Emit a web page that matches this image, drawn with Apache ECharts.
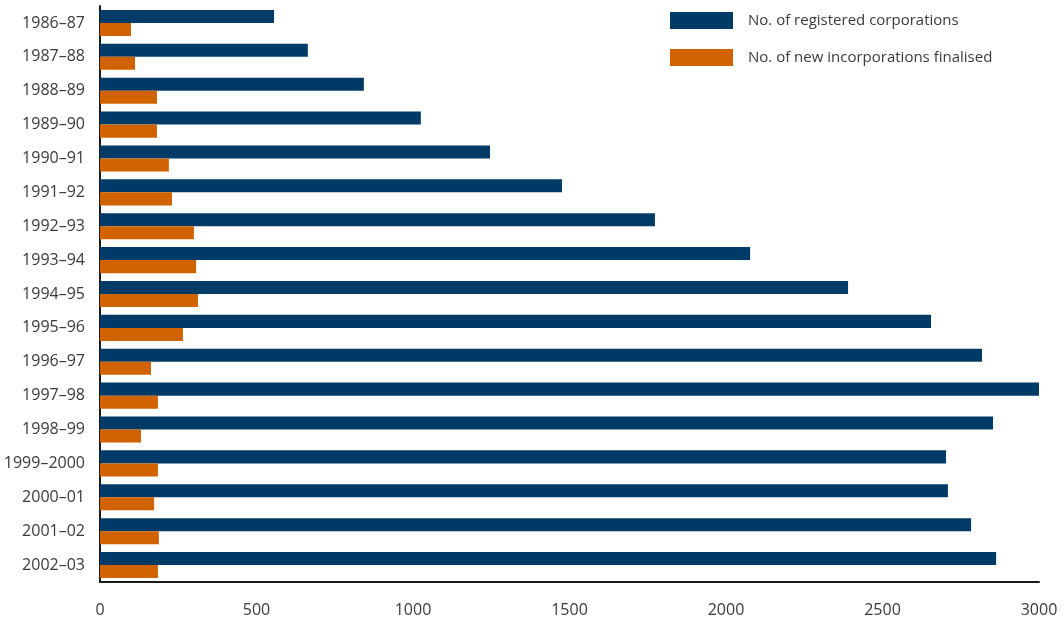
<!DOCTYPE html>
<html>
<head>
<meta charset="utf-8">
<script src="https://cdn.jsdelivr.net/npm/echarts@6/dist/echarts.min.js"></script>
<style>
  html, body { margin: 0; padding: 0; background: #ffffff; }
  #chart { width: 1064px; height: 621px; }
</style>
</head>
<body>
<div id="chart"></div>
<script>
// Financial years, top to bottom
const years = [
  '1986–87', '1987–88', '1988–89', '1989–90', '1990–91', '1991–92',
  '1992–93', '1993–94', '1994–95', '1995–96', '1996–97', '1997–98',
  '1998–99', '1999–2000', '2000–01', '2001–02', '2002–03'
];

// No. of registered corporations at year end
const registered = [
  556, 664, 843, 1025, 1246, 1476, 1773, 2077, 2390, 2655,
  2818, 3000, 2853, 2703, 2709, 2783, 2863
];

// No. of new incorporations finalised during the year
const newIncorporations = [
  99, 112, 182, 182, 220, 230, 300, 307, 313, 265,
  163, 185, 131, 185, 173, 188, 185
];

const xTicks = [0, 500, 1000, 1500, 2000, 2500, 3000];

const FONT = '"Open Sans", "Liberation Sans", sans-serif';
const TEXT = '#3a3a3a';

const chart = echarts.init(document.getElementById('chart'), null, { renderer: 'canvas' });

chart.setOption({
  animation: false,
  backgroundColor: '#ffffff',
  textStyle: { fontFamily: FONT },
  grid: { left: 100, right: 25, top: 6, bottom: 39, containLabel: false },
  legend: {
    orient: 'vertical',
    left: 665,
    top: 7,
    itemWidth: 63,
    itemHeight: 17,
    itemGap: 20,
    icon: 'rect',
    textStyle: { fontFamily: FONT, fontSize: 15, color: TEXT, padding: [0, 0, 0, 10] },
    data: ['No. of registered corporations', 'No. of new incorporations finalised']
  },
  xAxis: {
    type: 'value',
    min: xTicks[0],
    max: xTicks[xTicks.length - 1],
    interval: 500,
    splitLine: { show: false },
    axisTick: { show: false },
    axisLine: { show: true, lineStyle: { color: '#1a1a1a', width: 2 } },
    axisLabel: {
      fontFamily: FONT, fontSize: 16, color: TEXT, margin: 20,
      formatter: function (v) { return String(v); }
    }
  },
  yAxis: {
    type: 'category',
    data: years,
    inverse: true,
    axisTick: { show: false },
    axisLine: { show: true, lineStyle: { color: '#1a1a1a', width: 2 } },
    axisLabel: { fontFamily: FONT, fontSize: 16, color: TEXT, margin: 15 }
  },
  series: [
    {
      name: 'No. of registered corporations',
      type: 'bar',
      data: registered,
      barGap: '0%',
      barCategoryGap: '23%',
      itemStyle: { color: '#003a66' }
    },
    {
      name: 'No. of new incorporations finalised',
      type: 'bar',
      data: newIncorporations,
      itemStyle: { color: '#d06300' }
    }
  ]
});
</script>
</body>
</html>
